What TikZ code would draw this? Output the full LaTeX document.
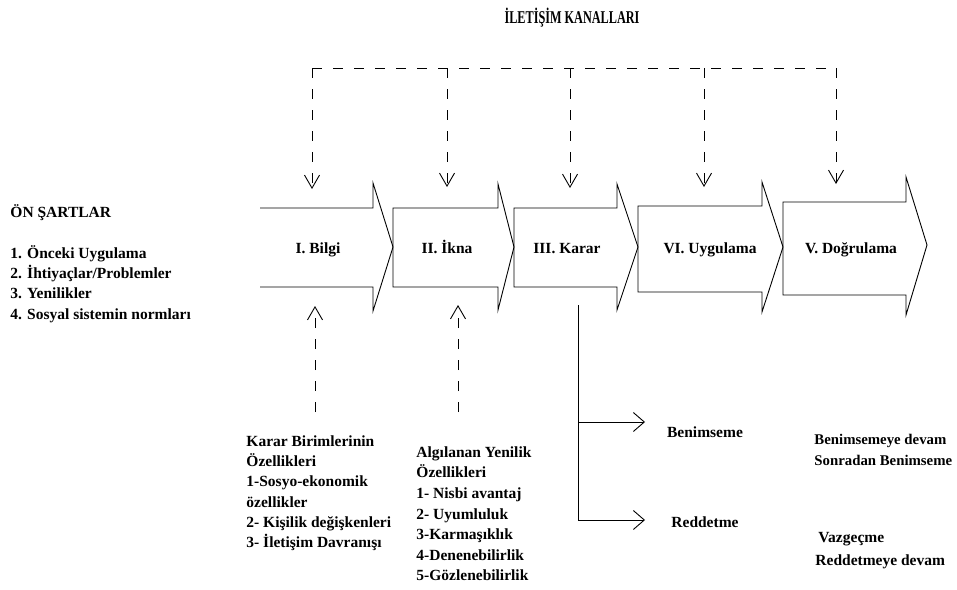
\documentclass[tikz,border=0pt]{standalone}
\usepackage{fontspec}
\setmainfont{Liberation Serif}
\usetikzlibrary{arrows.meta}

\begin{document}
\begin{tikzpicture}[x=1pt, y=-1pt, line width=0.9pt,
  txt/.style={font=\bfseries\fontsize{15.5}{20.3}\selectfont, inner sep=0pt, align=left},
  chan/.style={dash pattern=on 10pt off 11pt},
  barb/.style={-{Straight Barb[length=13pt,width=15pt]}},
  barbr/.style={-{Straight Barb[length=11pt,width=19pt]}}]

\useasboundingbox (0,0) rectangle (957,589);

% Title
\node[font=\bfseries\fontsize{18}{20}\selectfont, xscale=0.68, transform shape] (kanal) at (572,18) {İLETİŞİM KANALLARI};

% Communication channels
\coordinate (k1) at (312,68);
\coordinate (k2) at (447,68);
\coordinate (k3) at (570,68);
\coordinate (k4) at (704,68);
\coordinate (k5) at (836,68);
\coordinate (t1) at (312,189);
\coordinate (t2) at (447,187);
\coordinate (t3) at (570,188);
\coordinate (t4) at (704,187);
\coordinate (t5) at (836,184);
\draw[chan] (k1) -- (k5);
\draw[chan, barb] (k1) -- (t1);
\draw[chan, barb] (k2) -- (t2);
\draw[chan, barb] (k3) -- (t3);
\draw[chan, barb] (k4) -- (t4);
\draw[chan, barb] (k5) -- (t5);

% Stages
\draw (260,208) -- (373,208) -- (373,183) -- (393,247) -- (373,311) -- (373,287) -- (260,287);
\draw (393,208) -- (498,208) -- (498,184) -- (514,247) -- (498,310) -- (498,287) -- (393,287) -- cycle;
\draw (514,208) -- (617,208) -- (617,184) -- (638,247) -- (617,310) -- (617,287) -- (514,287) -- cycle;
\draw (638,206) -- (762,206) -- (762,182) -- (783,247) -- (762,312) -- (762,292) -- (638,292) -- cycle;
\draw (783,202) -- (906,202) -- (906,177) -- (927,245) -- (906,315) -- (906,295) -- (783,295) -- cycle;

\node[txt, anchor=base] (bilgi) at (318,253) {I. Bilgi};
\node[txt, anchor=base] (ikna) at (447,253) {II. İkna};
\node[txt, anchor=base] (karar) at (567,253) {III. Karar};
\node[txt, anchor=base] (uygulama) at (710,253) {VI. Uygulama};
\node[txt, anchor=base] (dogrulama) at (851,253) {V. Doğrulama};

% Prior conditions
\node[txt, anchor=west] (onsart) at (10,213) {ÖN ŞARTLAR};
\node[txt, anchor=north west] (liste) at (10,245) {1. Önceki Uygulama\\2. İhtiyaçlar/Problemler\\3. Yenilikler\\4. Sosyal sistemin normları};

% Inputs from below
\coordinate (b1) at (315,412);
\coordinate (u1) at (315,306);
\coordinate (b2) at (458,412);
\coordinate (u2) at (458,305);
\draw[chan, barb] (b1) -- (u1);
\draw[chan, barb] (b2) -- (u2);

\node[txt, anchor=north west] (birim) at (246,435) {Karar Birimlerinin\\Özellikleri\\1-Sosyo-ekonomik\\özellikler\\2- Kişilik değişkenleri\\3- İletişim Davranışı};
\node[txt, anchor=north west, font=\bfseries\fontsize{15.5}{20.6}\selectfont] (yenilik) at (416,446) {Algılanan Yenilik\\Özellikleri\\1- Nisbi avantaj\\2- Uyumluluk\\3-Karmaşıklık\\4-Denenebilirlik\\5-Gözlenebilirlik};

% Decision branches
\coordinate (kr) at (578,305);
\coordinate (kr1) at (578,422);
\coordinate (ben) at (645,422);
\coordinate (red) at (645,520);
\draw[barbr] (kr) |- (red);
\draw[barbr] (kr1) -- (ben);

\node[txt] (benimseme) at (705,432) {Benimseme};
\node[txt] (reddetme) at (705,522) {Reddetme};

% Outcomes
\node[txt, anchor=north west, font=\bfseries\fontsize{14.8}{20.3}\selectfont] (devam) at (814,434) {Benimsemeye devam\\Sonradan Benimseme};
\node[txt, anchor=north west, font=\bfseries\fontsize{15.5}{23}\selectfont] (vazgecme) at (815,532) {\hspace{3pt}Vazgeçme\\Reddetmeye devam};

\end{tikzpicture}
\end{document}
